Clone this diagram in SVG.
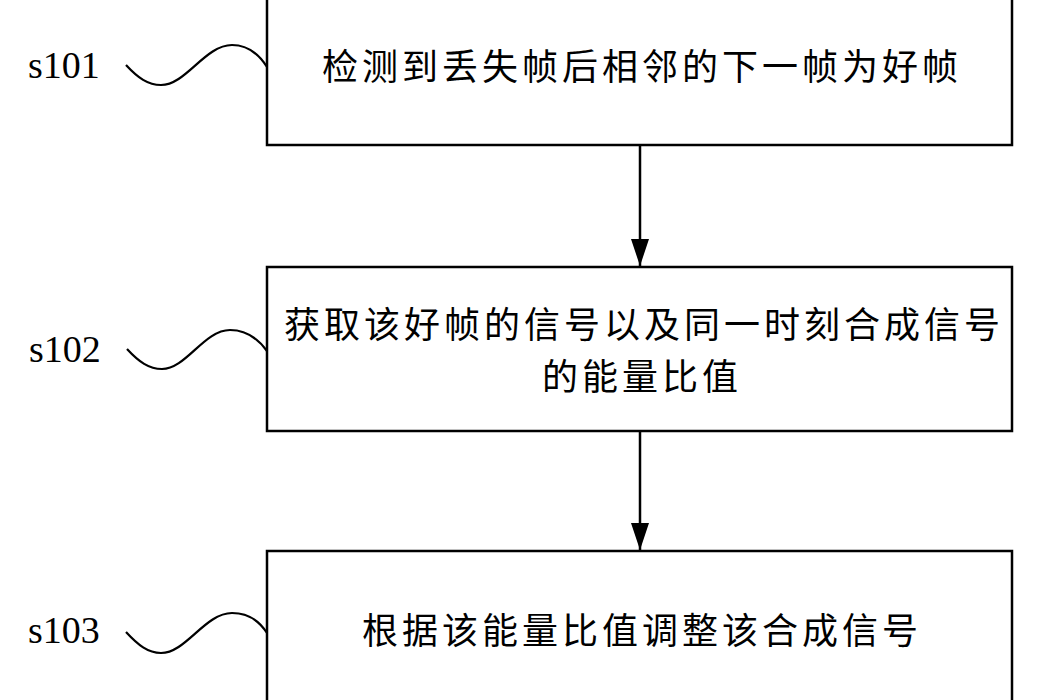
<svg xmlns="http://www.w3.org/2000/svg" width="1049" height="700" viewBox="0 0 1049 700">
<style>
.box{fill:#fff;stroke:#000;stroke-width:2.5}
.cn{font-family:"Noto Sans CJK SC","Noto Sans CJK JP",sans-serif;font-size:36px;letter-spacing:4px;fill:#000;text-anchor:middle}
.lbl{font-family:"Liberation Serif","Times New Roman",serif;font-size:38px;fill:#000}
.sq{fill:none;stroke:#000;stroke-width:2.2}
.con{stroke:#000;stroke-width:2.5;fill:none}
</style>
<defs>
<marker id="ah" markerUnits="userSpaceOnUse" markerWidth="28" markerHeight="18" refX="27" refY="9" orient="auto" viewBox="0 0 28 18">
<path d="M0,0 L27,9 L0,18 Z" fill="#000"/>
</marker>
</defs>
<rect width="1049" height="700" fill="#fff"/>
<g id="connectors">
<line class="con" x1="640" y1="146" x2="640" y2="266" marker-end="url(#ah)"/>
<line class="con" x1="640" y1="432" x2="640" y2="550" marker-end="url(#ah)"/>
</g>
<g id="s101">
<rect class="box" x="267" y="-10" width="745" height="155"/>
<text class="cn" x="642" y="80">检测到丢失帧后相邻的下一帧为好帧</text>
<text class="lbl" x="28" y="78">s101</text>
<path class="sq" d="M126,65 C138,78 148,85 161,85 C186,85 205,45 232,45 C249,45 260,56 267,67"/>
</g>
<g id="s102">
<rect class="box" x="267" y="267" width="745" height="164"/>
<text class="cn" x="644" y="338">获取该好帧的信号以及同一时刻合成信号</text>
<text class="cn" x="642" y="390">的能量比值</text>
<text class="lbl" x="29" y="362">s102</text>
<path class="sq" d="M127,349 C139,362 149,369 162,369 C186,369 204,330 230,330 C248,330 259,340 267,351"/>
</g>
<g id="s103">
<rect class="box" x="267" y="551" width="745" height="170"/>
<text class="cn" x="642" y="644">根据该能量比值调整该合成信号</text>
<text class="lbl" x="28" y="643">s103</text>
<path class="sq" d="M126,632 C138,645 148,653 161,653 C186,653 205,613 232,613 C249,613 260,622 267,633"/>
</g>
</svg>
